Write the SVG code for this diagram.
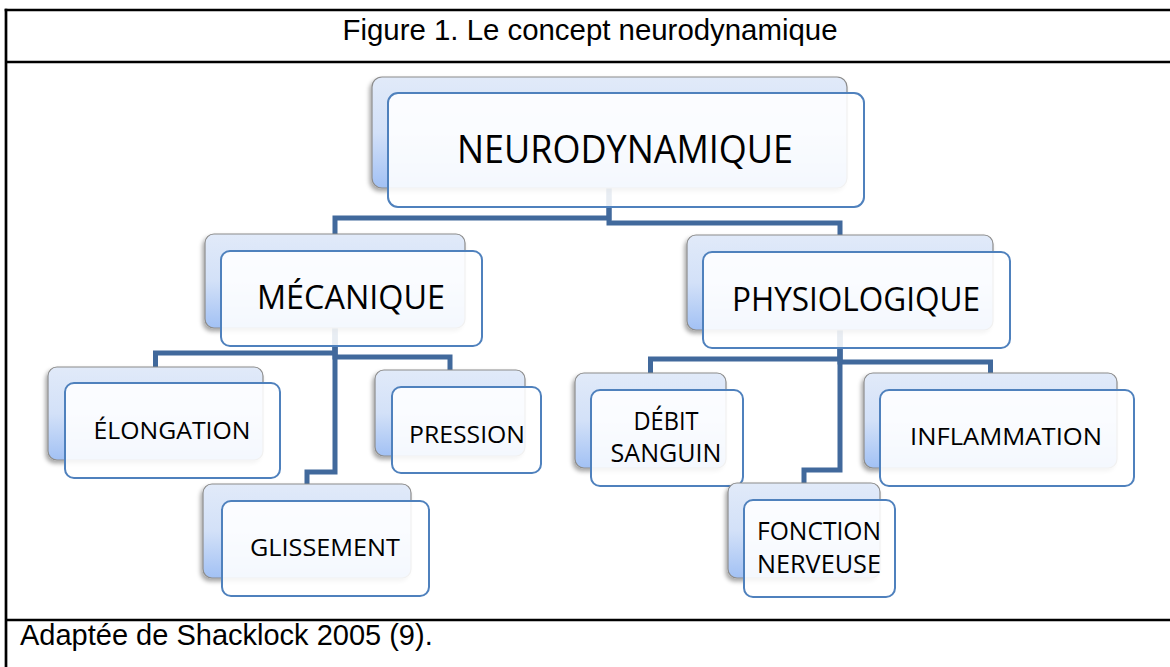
<svg xmlns="http://www.w3.org/2000/svg" width="1170" height="667" viewBox="0 0 1170 667">
<style>
.frame{stroke:#000;stroke-width:2.7;fill:none}
.cap{font-family:"Liberation Sans",Arial,sans-serif;font-size:29px;fill:#000}
.back{fill:url(#bg);stroke:#8C8C8C;stroke-width:1.2;filter:url(#sh)}
.front{fill:#fff;fill-opacity:0.88;stroke:#4F81BD;stroke-width:2}
.lbl{font-family:"Open Sans","Liberation Sans",sans-serif;fill:#000;text-anchor:middle}
.conn{fill:none;stroke:#41699C;stroke-width:5;stroke-linejoin:miter}
</style>
<defs>
<linearGradient id="bg" x1="0" y1="0" x2="0" y2="1">
<stop offset="0" stop-color="#E1EAF9"/>
<stop offset="0.5" stop-color="#D3E1F8"/>
<stop offset="1" stop-color="#A2C1F4"/>
</linearGradient>
<filter id="sh" x="-10%" y="-10%" width="120%" height="130%">
<feDropShadow dx="-2" dy="3" stdDeviation="2.2" flood-color="#000" flood-opacity="0.35"/>
</filter>
</defs>
<rect width="1170" height="667" fill="#fff"/>
<g id="table">
<line class="frame" x1="6" y1="8.7" x2="6" y2="667"/>
<line class="frame" x1="4.7" y1="10" x2="1170" y2="10"/>
<line class="frame" x1="6" y1="62" x2="1170" y2="62"/>
<line class="frame" x1="6" y1="620" x2="1170" y2="620"/>
<text class="cap" x="590" y="40" text-anchor="middle" textLength="495" lengthAdjust="spacingAndGlyphs">Figure 1. Le concept neurodynamique</text>
<text class="cap" x="20" y="645">Adaptée de Shacklock 2005 (9).</text>
</g>
<g id="connectors">
<path class="conn" d="M609,188 V218 H335 V236"/>
<path class="conn" d="M609,188 V223 H840 V237"/>
<path class="conn" d="M335,320 V353 H155.5 V369"/>
<path class="conn" d="M335,320 V357 H450 V372"/>
<path class="conn" d="M335,320 V472 H307 V486"/>
<path class="conn" d="M840,320 V359 H650.5 V375"/>
<path class="conn" d="M840,320 V362 H990.5 V375"/>
<path class="conn" d="M840,320 V470 H804 V485"/>
</g>
<g id="n-neuro">
<rect class="back" x="372" y="77" width="475" height="111" rx="10"/>
<rect class="front" x="388" y="93" width="476" height="114" rx="10"/>
<text class="lbl" x="625" y="163" font-size="39" textLength="336" lengthAdjust="spacingAndGlyphs">NEURODYNAMIQUE</text>
</g>
<g id="n-meca">
<rect class="back" x="205" y="234" width="260" height="94" rx="9"/>
<rect class="front" x="221" y="251" width="261" height="95" rx="9"/>
<text class="lbl" x="351" y="309" font-size="32" textLength="188" lengthAdjust="spacingAndGlyphs">MÉCANIQUE</text>
</g>
<g id="n-physio">
<rect class="back" x="687" y="235" width="306" height="95" rx="9"/>
<rect class="front" x="703" y="252" width="307" height="96" rx="9"/>
<text class="lbl" x="856" y="311" font-size="33" textLength="248" lengthAdjust="spacingAndGlyphs">PHYSIOLOGIQUE</text>
</g>
<g id="n-elong">
<rect class="back" x="48" y="367" width="215" height="93" rx="9"/>
<rect class="front" x="65" y="383" width="215" height="95" rx="9"/>
<text class="lbl" x="172" y="439" font-size="24" textLength="157" lengthAdjust="spacingAndGlyphs">ÉLONGATION</text>
</g>
<g id="n-pression">
<rect class="back" x="375" y="370" width="150" height="86" rx="9"/>
<rect class="front" x="392" y="387" width="149" height="86" rx="9"/>
<text class="lbl" x="467" y="443" font-size="24" textLength="116" lengthAdjust="spacingAndGlyphs">PRESSION</text>
</g>
<g id="n-gliss">
<rect class="back" x="203" y="484" width="208" height="94" rx="9"/>
<rect class="front" x="222" y="501" width="207" height="95" rx="9"/>
<text class="lbl" x="325" y="556" font-size="24" textLength="150" lengthAdjust="spacingAndGlyphs">GLISSEMENT</text>
</g>
<g id="n-debit">
<rect class="back" x="575" y="373" width="151" height="95" rx="9"/>
<rect class="front" x="591" y="390" width="152" height="96" rx="9"/>
<text class="lbl" x="666" y="430" font-size="25" textLength="65" lengthAdjust="spacingAndGlyphs">DÉBIT</text>
<text class="lbl" x="666" y="462" font-size="25" textLength="111" lengthAdjust="spacingAndGlyphs">SANGUIN</text>
</g>
<g id="n-fonction">
<rect class="back" x="728" y="483" width="152" height="95" rx="9"/>
<rect class="front" x="744" y="500" width="151" height="97" rx="9"/>
<text class="lbl" x="819" y="540" font-size="25" textLength="124" lengthAdjust="spacingAndGlyphs">FONCTION</text>
<text class="lbl" x="819" y="573" font-size="25" textLength="124" lengthAdjust="spacingAndGlyphs">NERVEUSE</text>
</g>
<g id="n-inflam">
<rect class="back" x="864" y="373" width="253" height="95" rx="9"/>
<rect class="front" x="880" y="390" width="254" height="96" rx="9"/>
<text class="lbl" x="1006" y="445" font-size="24" textLength="192" lengthAdjust="spacingAndGlyphs">INFLAMMATION</text>
</g>
</svg>
